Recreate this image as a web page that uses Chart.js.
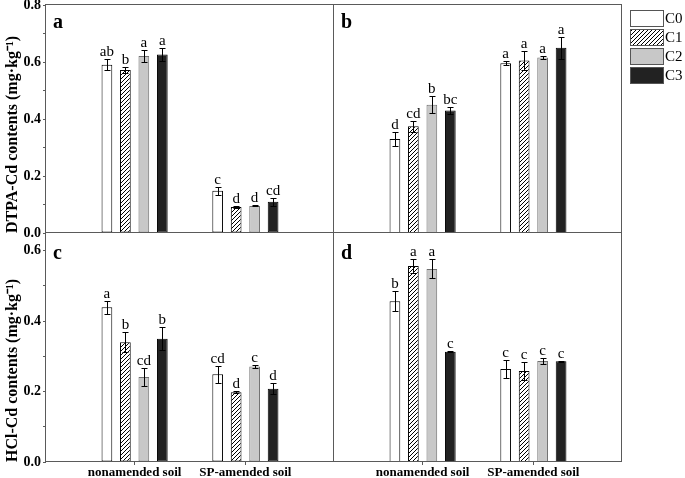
<!DOCTYPE html>
<html><head><meta charset="utf-8">
<script src="https://cdn.jsdelivr.net/npm/chart.js@4.4.1/dist/chart.umd.min.js"></script>
<style>
html,body{margin:0;padding:0;background:#fff;}
#wrap{position:relative;width:685px;height:478px;overflow:hidden;background:#fff;}
canvas{position:absolute;}
</style></head><body>
<div id="wrap">
<canvas id="cA" width="340" height="245" style="left:0px;top:0px"></canvas>
<canvas id="cB" width="355" height="245" style="left:330px;top:0px"></canvas>
<canvas id="cC" width="340" height="250" style="left:0px;top:228px"></canvas>
<canvas id="cD" width="295" height="250" style="left:330px;top:228px"></canvas>
</div>
<script>
// ---- data ----
const categories = ['nonamended soil', 'SP-amended soil'];
const seriesNames = ['C0', 'C1', 'C2', 'C3'];

// panel a: DTPA-Cd (values per series: [nonamended, SP-amended])
const valuesA  = [[0.590, 0.148], [0.572, 0.091], [0.621, 0.095], [0.626, 0.110]];
const errorsA  = [[0.019, 0.014], [0.011, 0.003], [0.021, 0.002], [0.022, 0.014]];
const lettersA = [['ab', 'c'], ['b', 'd'], ['a', 'd'], ['a', 'cd']];
// panel b
const valuesB  = [[0.330, 0.596], [0.375, 0.605], [0.450, 0.616], [0.430, 0.650]];
const errorsB  = [[0.026, 0.008], [0.019, 0.032], [0.029, 0.006], [0.012, 0.039]];
const lettersB = [['d', 'a'], ['cd', 'a'], ['b', 'a'], ['bc', 'a']];
// panel c: HCl-Cd
const valuesC  = [[0.439, 0.249], [0.340, 0.198], [0.241, 0.271], [0.350, 0.208]];
const errorsC  = [[0.019, 0.024], [0.029, 0.003], [0.025, 0.003], [0.032, 0.015]];
const lettersC = [['a', 'cd'], ['b', 'd'], ['cd', 'c'], ['b', 'd']];
// panel d
const valuesD  = [[0.456, 0.264], [0.556, 0.258], [0.548, 0.287], [0.313, 0.286]];
const errorsD  = [[0.028, 0.026], [0.020, 0.026], [0.027, 0.008], [0.002, 0.002]];
const lettersD = [['b', 'c'], ['a', 'c'], ['a', 'c'], ['c', 'c']];

const titleTop = 'DTPA-Cd contents (mg·kg⁻¹)';
const titleBottom = 'HCl-Cd contents (mg·kg⁻¹)';

// ---- styles ----
const FONT = "'Liberation Serif','Times New Roman',serif";
const frameColor = '#5a5a5a';
const X_MIN = 0.2, X_MAX = 2.8;

function hatchPattern() {
  const c = document.createElement('canvas');
  c.width = 4; c.height = 4;
  const g = c.getContext('2d');
  g.fillStyle = '#fff'; g.fillRect(0, 0, 4, 4);
  g.strokeStyle = '#000'; g.lineWidth = 1;
  g.beginPath();
  g.moveTo(0, 4); g.lineTo(4, 0);
  g.moveTo(-1, 1); g.lineTo(1, -1);
  g.moveTo(3, 5); g.lineTo(5, 3);
  g.stroke();
  return g.createPattern(c, 'repeat');
}
const fills = ['#ffffff', hatchPattern(), '#c8c8c8', '#222222'];
const borders = ['#000000', '#000000', '#707070', '#000000'];

function decoPlugin(errs, lets, tag, tagOffset, withLegend) {
  return {
    id: 'deco',
    afterDatasetsDraw(chart) {
      const ctx = chart.ctx, ys = chart.scales.y, a = chart.chartArea;
      ctx.save();
      chart.data.datasets.forEach((ds, i) => {
        const meta = chart.getDatasetMeta(i);
        meta.data.forEach((bar, j) => {
          const v = ds.data[j].y, e = errs[i][j];
          const yt = Math.round(ys.getPixelForValue(v + e)) + 0.5;
          const yb = Math.round(ys.getPixelForValue(v - e)) + 0.5;
          const x = Math.round(bar.x) + 0.5;
          ctx.strokeStyle = '#000'; ctx.lineWidth = 1;
          ctx.beginPath();
          ctx.moveTo(x, yt); ctx.lineTo(x, yb);
          ctx.moveTo(x - 3, yt); ctx.lineTo(x + 3, yt);
          ctx.moveTo(x - 3, yb); ctx.lineTo(x + 3, yb);
          ctx.stroke();
          ctx.fillStyle = '#000';
          ctx.font = '15px ' + FONT;
          ctx.textAlign = 'center'; ctx.textBaseline = 'alphabetic';
          ctx.fillText(lets[i][j], bar.x, yt - 4);
        });
      });
      ctx.strokeStyle = frameColor; ctx.lineWidth = 1;
      ctx.strokeRect(a.left - 0.5, a.top - 0.5, a.right - a.left, a.bottom - a.top);
      ctx.fillStyle = '#000';
      ctx.font = 'bold 20px ' + FONT;
      ctx.textAlign = 'left'; ctx.textBaseline = 'alphabetic';
      ctx.fillText(tag, a.left + 7, a.top + tagOffset);
      if (withLegend) {
        const x0 = a.right + 8, y0 = 10;
        chart.data.datasets.forEach((ds, k) => {
          const y = y0 + k * 19;
          ctx.fillStyle = ds.backgroundColor;
          ctx.fillRect(x0, y, 33, 16);
          ctx.strokeStyle = '#555'; ctx.lineWidth = 1;
          ctx.strokeRect(x0 + 0.5, y + 0.5, 33, 16);
          ctx.fillStyle = '#000';
          ctx.font = '15px ' + FONT;
          ctx.textAlign = 'left'; ctx.textBaseline = 'middle';
          ctx.fillText(ds.label, x0 + 35, y + 9);
        });
      }
      ctx.restore();
    }
  };
}

function makeChart(id, vals, errs, lets, o) {
  const datasets = seriesNames.map((n, i) => ({
    label: n,
    data: categories.map((c, j) => ({ x: j + 1, y: vals[i][j] })),
    backgroundColor: fills[i],
    borderColor: borders[i],
    borderWidth: 1,
    borderSkipped: false,
    categoryPercentage: 0.667,
    barPercentage: 0.58
  }));
  return new Chart(document.getElementById(id), {
    type: 'bar',
    data: { datasets },
    options: {
      responsive: false,
      animation: false,
      devicePixelRatio: 1,
      layout: { padding: o.padding },
      plugins: { legend: { display: false }, tooltip: { enabled: false } },
      scales: {
        x: {
          type: 'linear', min: X_MIN, max: X_MAX, offset: false,
          display: o.bottom,
          afterDataLimits: s => { s.min = X_MIN; s.max = X_MAX; },
          afterBuildTicks: s => {
            s.ticks = categories.map((c, j) => ({ value: j + 1 }));
            s.min = X_MIN; s.max = X_MAX;
          },
          ticks: {
            autoSkip: false, maxRotation: 0, padding: 0, color: '#000',
            font: { family: FONT, size: 13, weight: 'bold' },
            callback: v => categories[Math.round(v) - 1] || ''
          },
          grid: { drawOnChartArea: false, offset: false, tickLength: 3, color: frameColor },
          border: { display: false },
          afterFit: s => { s.height = o.bottom ? 16 : 0; s.paddingLeft = 0; s.paddingRight = 0; }
        },
        y: {
          type: 'linear', min: 0, max: o.yMax,
          display: o.left,
          ticks: {
            stepSize: 0.1, includeBounds: false, autoSkip: false, padding: 2, color: '#000',
            font: { family: FONT, size: 14, weight: 'bold' },
            callback: v => (Math.round(v * 10) % 2 === 0 ? v.toFixed(1) : '')
          },
          grid: { drawOnChartArea: false, tickLength: 3, color: frameColor },
          border: { display: false },
          title: {
            display: true, text: o.title, align: 'start', color: '#000',
            font: { family: FONT, size: 16, weight: 'bold' },
            padding: { top: 3, bottom: 0 }
          },
          afterFit: s => { if (o.left) { s.width = 46; } s.paddingTop = 0; s.paddingBottom = 0; }
        }
      }
    },
    plugins: [decoPlugin(errs, lets, o.tag, o.tagOffset, o.legend)]
  });
}

makeChart('cA', valuesA, errorsA, lettersA, {
  left: true, bottom: false, yMax: 0.8, title: titleTop, tag: 'a', tagOffset: 23,
  padding: { left: 0, top: 5, right: 6, bottom: 12 }
});
makeChart('cB', valuesB, errorsB, lettersB, {
  left: false, bottom: false, yMax: 0.8, title: titleTop, tag: 'b', tagOffset: 23, legend: true,
  padding: { left: 4, top: 5, right: 63, bottom: 12 }
});
makeChart('cC', valuesC, errorsC, lettersC, {
  left: true, bottom: true, yMax: 0.65, title: titleBottom, tag: 'c', tagOffset: 26,
  padding: { left: 0, top: 5, right: 6, bottom: 0 }
});
makeChart('cD', valuesD, errorsD, lettersD, {
  left: false, bottom: true, yMax: 0.65, title: titleBottom, tag: 'd', tagOffset: 26,
  padding: { left: 4, top: 5, right: 3, bottom: 0 }
});
</script>
</body></html>
